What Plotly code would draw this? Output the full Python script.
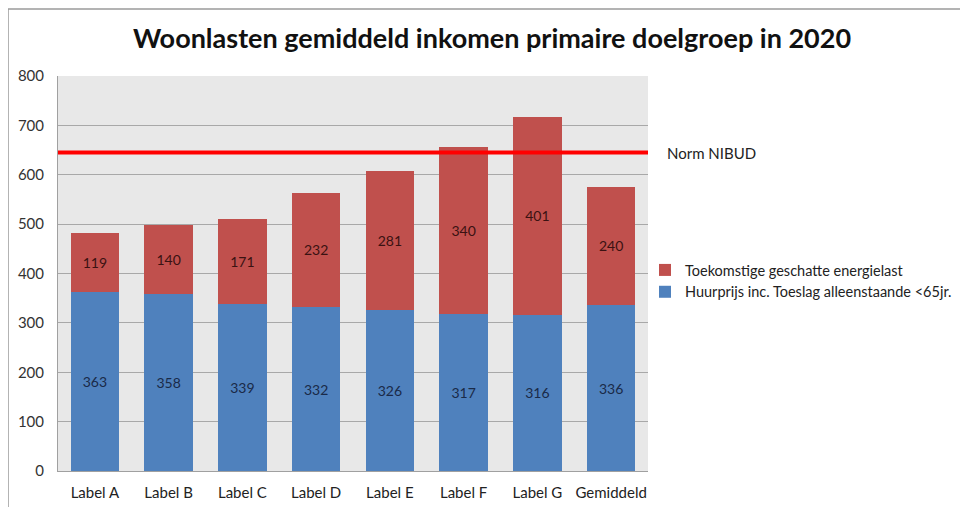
import plotly.graph_objects as go

categories = ["Label A", "Label B", "Label C", "Label D", "Label E", "Label F", "Label G", "Gemiddeld"]
huur = [363, 358, 339, 332, 326, 317, 316, 336]
energie = [119, 140, 171, 232, 281, 340, 401, 240]
norm_value = 645
norm_label = "Norm NIBUD"
series_names = ["Huurprijs inc. Toeslag alleenstaande <65jr.", "Toekomstige geschatte energielast"]
title = "Woonlasten gemiddeld inkomen primaire doelgroep in 2020"
y_ticks = [0, 100, 200, 300, 400, 500, 600, 700, 800]

FONT = "Lato, 'Open Sans', sans-serif"

W, H = 960, 499
L, R, T, B = 50, 320, 68, 36
PW, PH = W - L - R, H - T - B

fig = go.Figure()
fig.add_trace(go.Bar(
    x=categories, y=huur, name=series_names[0], legendrank=2,
    marker=dict(color="#4F81BD", line=dict(width=0)),
    text=huur, textposition="inside", insidetextanchor="middle",
    textfont=dict(color="#1a2a48", size=14, family=FONT),
))
fig.add_trace(go.Bar(
    x=categories, y=energie, name=series_names[1], legendrank=1,
    marker=dict(color="#C0504D", line=dict(width=0)),
    text=energie, textposition="inside", insidetextanchor="middle",
    textfont=dict(color="#3a1212", size=14, family=FONT),
))

fig.add_shape(type="line", xref="paper", yref="y", x0=0, x1=1, y0=norm_value, y1=norm_value,
              line=dict(color="#FF0000", width=4))
fig.add_annotation(xref="paper", yref="y", x=(657 - L) / PW, y=norm_value, text=norm_label,
                   showarrow=False, xanchor="left", yanchor="middle",
                   font=dict(size=15, color="#222", family=FONT))

# outer frame lines (top and left)
top_y = (H - B - 1) / PH
left_x = (0 - L) / PW
fig.add_shape(type="line", xref="paper", yref="paper", x0=left_x, x1=(W - L) / PW, y0=top_y, y1=top_y,
              line=dict(color="#9a9a9a", width=1.5))
fig.add_shape(type="line", xref="paper", yref="paper", x0=left_x, x1=left_x, y0=-B / PH, y1=top_y,
              line=dict(color="#9a9a9a", width=1.5))

fig.update_layout(
    width=W, height=H,
    barmode="stack", bargap=0.34,
    paper_bgcolor="white", plot_bgcolor="#E8E8E8",
    margin=dict(l=L, r=R, t=T, b=B, autoexpand=False),
    title=dict(text="<b>" + title + "</b>", x=484 / W, xanchor="center", y=1 - 31 / H, yanchor="middle",
               font=dict(size=27, color="#111", family=FONT)),
    font=dict(family=FONT, size=12, color="#222"),
    showlegend=True,
    legend=dict(x=(637 - L) / PW, y=(H - B - 246) / PH, xanchor="left", yanchor="top",
                traceorder="normal",
                font=dict(size=14.5, color="#222", family=FONT), itemwidth=30,
                bgcolor="rgba(0,0,0,0)"),
    xaxis=dict(showgrid=False, showline=True, linecolor="#a0a0a0", linewidth=1, automargin=False,
               tickfont=dict(size=15, color="#222"), ticks="", ticklabelstandoff=8),
    yaxis=dict(range=[0, 800], tickvals=y_ticks, showgrid=True, gridcolor="#a8a8a8", gridwidth=1,
               showline=True, linecolor="#a0a0a0", zeroline=False, automargin=False,
               tickfont=dict(size=15, color="#333"), ticks="", ticklabelstandoff=10),
)

fig.write_html("out.html")
